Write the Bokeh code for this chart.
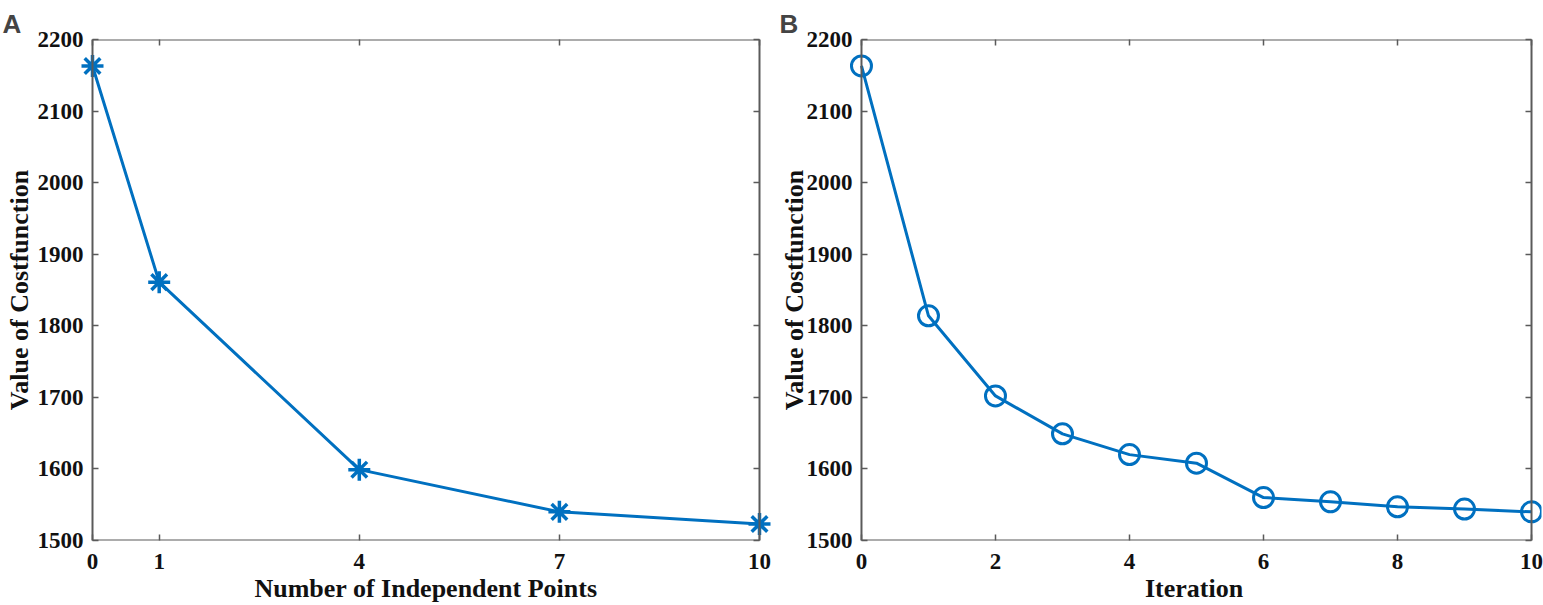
from bokeh.plotting import figure
from bokeh.layouts import row
from bokeh.models import LinearAxis, FixedTicker, Range1d, BoxAnnotation
from bokeh.embed import file_html
from bokeh.resources import INLINE

# Panel A data
a_points = [0, 1, 4, 7, 10]
a_cost = [2163, 1861, 1599, 1540, 1523]
# Panel B data
b_iter = [0, 1, 2, 3, 4, 5, 6, 7, 8, 9, 10]
b_cost = [2163, 1814, 1702, 1649, 1620, 1608, 1560, 1554, 1547, 1544, 1540]

y_ticks = [1500, 1600, 1700, 1800, 1900, 2000, 2100, 2200]
a_xticks = [0, 1, 4, 7, 10]
b_xticks = [0, 2, 4, 6, 8, 10]

BLUE = "#0070C0"
AXC = "#5a5a5a"
SERIF = "Liberation Serif"
HEIGHT = 605


def style_axis(ax, labels=True):
    ax.axis_line_color = None
    ax.major_tick_line_color = AXC
    ax.major_tick_line_width = 1.5
    ax.major_tick_in = 6
    ax.major_tick_out = 0
    ax.minor_tick_line_color = None
    ax.major_label_text_font = SERIF
    ax.major_label_text_font_style = "bold"
    ax.major_label_text_font_size = "23px"
    ax.major_label_text_color = "#111111"
    ax.axis_label_text_font = SERIF
    ax.axis_label_text_font_style = "bold"
    ax.axis_label_text_font_size = "26px"
    ax.axis_label_text_color = "#111111"
    if not labels:
        ax.major_label_text_font_size = "0px"
        ax.major_label_text_color = None
        ax.major_label_standoff = 0


def make_fig(width, box_l, box_r, pad_l, pad_r, xticks, xlabel, letter, ylab_standoff):
    # box_l/box_r: px between canvas edges and the drawn axes box
    frame_l = box_l - pad_l
    frame_r = box_r - pad_r
    box_w = width - box_l - box_r
    unit = box_w / 10.0
    p = figure(width=width, height=HEIGHT, output_backend="svg", toolbar_location=None,
               x_range=Range1d(-pad_l / unit, 10 + pad_r / unit),
               y_range=Range1d(1500, 2200),
               min_border_left=frame_l, min_border_right=frame_r,
               min_border_top=39, min_border_bottom=HEIGHT - 540)
    p.grid.visible = False
    p.outline_line_color = None
    p.title.text = letter
    p.title.text_font = "Liberation Sans"
    p.title.text_font_style = "bold"
    p.title.text_font_size = "26px"
    p.title.align = "left"
    p.title.offset = -(frame_l - 2)
    p.title.standoff = 2
    p.xaxis.ticker = FixedTicker(ticks=xticks)
    p.yaxis.ticker = FixedTicker(ticks=y_ticks)
    p.xaxis.axis_label = xlabel
    p.yaxis.axis_label = "Value of Costfunction"
    for ax in p.xaxis + p.yaxis:
        style_axis(ax)
    p.xaxis.major_label_standoff = 13
    p.xaxis.axis_label_standoff = 2
    p.yaxis.major_tick_out = -pad_l
    p.yaxis.major_tick_in = pad_l + 6
    p.yaxis.major_label_standoff = 9 - pad_l
    p.yaxis.axis_label_standoff = ylab_standoff
    top = LinearAxis(ticker=FixedTicker(ticks=xticks))
    right = LinearAxis(ticker=FixedTicker(ticks=y_ticks))
    style_axis(top, False)
    style_axis(right, False)
    right.major_tick_out = -pad_r
    right.major_tick_in = pad_r + 6
    p.add_layout(top, "above")
    p.add_layout(right, "right")
    p.add_layout(BoxAnnotation(left=0, right=10, bottom=1500, top=2200,
                               fill_color=None, line_color=AXC, line_alpha=1.0,
                               line_width=2))
    return p


pa = make_fig(776, 92, 776 - 759, 15, 15, a_xticks, "Number of Independent Points", "A", 1)
pa.line(a_points, a_cost, line_color=BLUE, line_width=3)
pa.scatter(a_points, a_cost, marker="asterisk", size=22, line_color=BLUE, line_width=3.5)

pb = make_fig(767, 860 - 776, 1543 - 1531, 15, 10, b_xticks, "Iteration", "B", -5)
pb.line(b_iter, b_cost, line_color=BLUE, line_width=3)
pb.scatter(b_iter, b_cost, marker="circle", size=20, line_color=BLUE, line_width=3,
           fill_color=None)

layout = row(pa, pb)
open("out.html", "w").write(file_html(layout, INLINE))
